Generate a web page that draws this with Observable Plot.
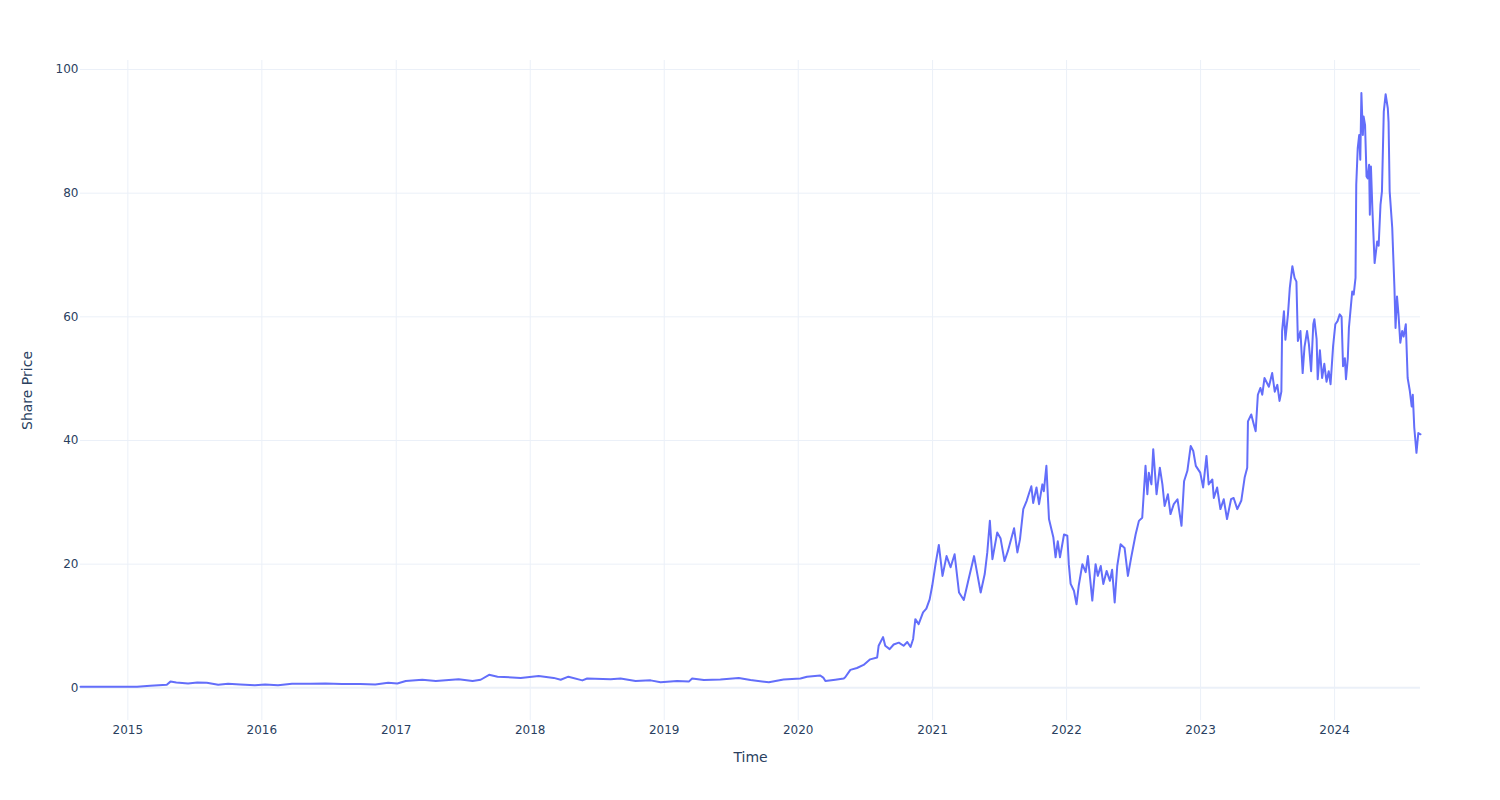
<!DOCTYPE html>
<html>
<head>
<meta charset="utf-8">
<script src="https://cdn.jsdelivr.net/npm/d3@7"></script>
<script src="https://cdn.jsdelivr.net/npm/@observablehq/plot@0.6"></script>
<style>
  html, body { margin: 0; padding: 0; background: #ffffff; }
  #chart { width: 1500px; height: 800px; }
</style>
</head>
<body>
<div id="chart"></div>
<script>
// ---- data ----
const dates = [
  "2014-08-25","2014-10-10","2014-11-20","2015-01-26","2015-03-03","2015-04-17","2015-04-27","2015-05-13",
  "2015-06-14","2015-07-09","2015-08-04","2015-09-04","2015-10-01","2015-11-03","2015-12-13",
  "2016-01-10","2016-02-14","2016-03-23","2016-05-12","2016-06-22","2016-08-06","2016-09-25","2016-11-05","2016-12-10",
  "2017-01-04","2017-01-27","2017-03-13","2017-04-19","2017-06-20","2017-07-28","2017-08-19","2017-09-11","2017-10-04","2017-12-06",
  "2018-01-24","2018-03-06","2018-03-25","2018-04-15","2018-05-23","2018-06-05","2018-08-08","2018-09-04","2018-10-15","2018-11-25","2018-12-22",
  "2019-02-05","2019-03-09","2019-03-18","2019-04-19","2019-06-03","2019-07-23","2019-08-24","2019-10-13","2019-11-22",
  "2020-01-07","2020-01-25","2020-03-01","2020-03-10","2020-03-15","2020-04-11","2020-05-04","2020-05-08","2020-05-22",
  "2020-06-09","2020-06-27","2020-07-15","2020-08-03","2020-08-07","2020-08-19","2020-08-25","2020-09-06","2020-09-17",
  "2020-10-01","2020-10-14","2020-10-24","2020-11-02","2020-11-09","2020-11-15","2020-11-24","2020-12-06","2020-12-15",
  "2020-12-24","2020-12-31",
  "2021-01-09","2021-01-18","2021-01-28","2021-02-08","2021-02-19","2021-03-02","2021-03-14","2021-03-27","2021-04-10",
  "2021-04-24","2021-05-12","2021-05-23","2021-05-30","2021-06-06","2021-06-13","2021-06-26","2021-07-05","2021-07-16",
  "2021-07-25","2021-08-11","2021-08-20","2021-08-27","2021-09-05","2021-09-14","2021-09-21","2021-09-27","2021-10-02",
  "2021-10-11","2021-10-18","2021-10-27","2021-10-31","2021-11-07","2021-11-14","2021-11-26","2021-12-02","2021-12-08",
  "2021-12-14","2021-12-25",
  "2022-01-03","2022-01-07","2022-01-12","2022-01-21","2022-01-28","2022-02-03","2022-02-13","2022-02-22","2022-02-28",
  "2022-03-12","2022-03-21","2022-03-27","2022-04-04","2022-04-11","2022-04-20","2022-04-29","2022-05-05","2022-05-12",
  "2022-05-19","2022-05-28","2022-06-08","2022-06-17","2022-06-26","2022-07-08","2022-07-17","2022-07-26","2022-08-04",
  "2022-08-09","2022-08-13","2022-08-20","2022-08-25","2022-09-03","2022-09-12","2022-09-19","2022-09-25","2022-10-04",
  "2022-10-11","2022-10-20","2022-10-30","2022-11-10","2022-11-17","2022-11-26","2022-12-05","2022-12-12","2022-12-19",
  "2022-12-31",
  "2023-01-08","2023-01-17","2023-01-23","2023-02-02","2023-02-06","2023-02-15","2023-02-24","2023-03-05","2023-03-14",
  "2023-03-25","2023-04-01","2023-04-11","2023-04-22","2023-05-01","2023-05-08","2023-05-10","2023-05-19","2023-05-26",
  "2023-05-31","2023-06-06","2023-06-13","2023-06-18","2023-06-24","2023-07-06","2023-07-15","2023-07-22","2023-07-29",
  "2023-08-04","2023-08-09","2023-08-11","2023-08-16","2023-08-20","2023-08-27","2023-09-01","2023-09-08","2023-09-14",
  "2023-09-19","2023-09-23","2023-09-30","2023-10-06","2023-10-11","2023-10-18","2023-10-23","2023-10-29","2023-11-04",
  "2023-11-07","2023-11-13","2023-11-16","2023-11-22","2023-11-28","2023-12-04","2023-12-10","2023-12-16","2023-12-21",
  "2023-12-28",
  "2024-01-03","2024-01-09","2024-01-15","2024-01-20","2024-01-24","2024-01-29","2024-02-01","2024-02-06","2024-02-09",
  "2024-02-18","2024-02-22","2024-02-27","2024-02-29","2024-03-04","2024-03-08","2024-03-11","2024-03-14","2024-03-18",
  "2024-03-20","2024-03-24","2024-03-28","2024-03-31","2024-04-04","2024-04-06","2024-04-09","2024-04-13","2024-04-19",
  "2024-04-26","2024-04-30","2024-05-05","2024-05-09","2024-05-14","2024-05-19","2024-05-25","2024-05-27","2024-05-30",
  "2024-06-06","2024-06-08","2024-06-12","2024-06-15","2024-06-19","2024-06-23","2024-06-28","2024-07-03","2024-07-07",
  "2024-07-13","2024-07-18","2024-07-24","2024-07-29","2024-08-01","2024-08-05","2024-08-11","2024-08-16","2024-08-22"
];
const prices = [
  0.18,0.17,0.16,0.18,0.35,0.5,1.0,0.85,
  0.7,0.85,0.8,0.5,0.65,0.55,0.43,
  0.55,0.43,0.65,0.65,0.7,0.6,0.6,0.55,0.8,
  0.7,1.1,1.3,1.1,1.4,1.1,1.3,2.1,1.8,1.6,
  1.9,1.6,1.3,1.8,1.2,1.5,1.4,1.5,1.1,1.2,0.9,
  1.1,1.0,1.5,1.25,1.35,1.6,1.25,0.9,1.35,
  1.5,1.8,2.0,1.6,1.1,1.3,1.5,1.7,2.9,
  3.2,3.7,4.6,4.9,6.8,8.2,6.8,6.25,7.0,
  7.3,6.8,7.4,6.6,7.9,11.1,10.3,12.2,12.8,
  14.3,16.5,
  20.0,23.1,18.1,21.3,19.5,21.6,15.4,14.2,17.8,
  21.3,15.4,18.4,21.9,27.0,20.8,25.1,24.2,20.5,
  22.1,25.8,21.9,24.0,28.9,30.2,31.5,32.6,29.9,
  32.4,29.7,32.9,31.8,35.9,27.3,24.3,21.1,23.7,
  21.1,24.8,
  24.6,20.0,16.8,15.7,13.5,16.5,20.0,18.7,21.3,
  14.1,20.0,18.1,19.7,16.8,18.9,17.3,19.1,13.8,
  19.7,23.2,22.6,18.1,21.1,24.8,27.0,27.5,35.9,
  31.3,34.8,32.9,38.6,31.3,35.6,32.9,29.4,31.3,
  28.1,29.7,30.5,26.2,33.4,35.1,39.1,38.3,35.9,
  34.8,
  32.4,37.5,32.9,33.7,30.7,32.4,28.9,30.5,27.3,
  30.5,30.7,28.9,30.3,34.0,35.6,43.1,44.2,42.6,
  41.5,47.4,48.5,47.4,50.1,48.7,50.9,47.9,49.0,
  46.4,47.9,57.7,60.9,56.3,60.4,64.7,68.2,66.3,
  65.7,56.1,57.7,50.9,55.1,57.7,55.6,51.2,58.8,
  59.6,56.4,49.9,54.6,50.1,52.4,49.5,51.2,49.1,
  55.3,
  58.8,59.3,60.4,60.0,52.0,53.3,49.9,53.3,58.2,
  64.1,63.6,66.3,81.4,87.3,89.4,85.4,96.2,89.4,
  92.4,91.0,82.7,82.4,84.6,76.5,84.3,77.3,68.7,
  72.2,71.5,78.1,80.3,93.2,96.0,93.7,91.5,80.3,
  74.4,71.1,64.7,58.2,63.3,60.4,55.8,57.7,56.8,
  58.8,50.1,48.0,45.5,47.4,42.1,38.0,41.2,41.0
];
const yearLabels = ["2015","2016","2017","2018","2019","2020","2021","2022","2023","2024"];
const yTicks = [0, 20, 40, 60, 80, 100];
const xTitle = "Time";
const yTitle = "Share Price";

// ---- build table ----
const data = dates.map((d, i) => ({date: new Date(d + "T00:00:00Z"), price: prices[i]}));
const xTickDates = yearLabels.map(y => new Date(y + "-01-01T00:00:00Z"));

const textColor = "#2a3f5f";
const gridColor = "#EBF0F8";

const chart = Plot.plot({
  width: 1500,
  height: 800,
  marginTop: 60,
  marginBottom: 80,
  marginLeft: 80,
  marginRight: 80,
  style: {fontFamily: "'DejaVu Sans', sans-serif", fontSize: "12px", color: textColor, background: "#ffffff"},
  x: {type: "utc", label: null},
  y: {domain: [-5.29, 101.46], label: null},
  marks: [
    Plot.gridX(xTickDates, {stroke: gridColor, strokeOpacity: 1, strokeWidth: 1}),
    Plot.gridY(yTicks.filter(v => v !== 0), {stroke: gridColor, strokeOpacity: 1, strokeWidth: 1}),
    Plot.ruleY([0], {stroke: gridColor, strokeWidth: 2}),
    Plot.lineY(data, {x: "date", y: "price", stroke: "#636efa", strokeWidth: 2, curve: "linear"}),
    Plot.axisX(xTickDates, {tickSize: 0, tickPadding: 5, tickFormat: d3.utcFormat("%Y"), label: null, fill: textColor, fontSize: 12}),
    Plot.axisY(yTicks, {tickSize: 0, tickPadding: 2, label: null, fill: textColor, fontSize: 12}),
    Plot.text([xTitle], {frameAnchor: "bottom", dy: 41.5, text: d => d, fill: textColor, fontSize: 14, textAnchor: "middle"}),
    Plot.text([yTitle], {frameAnchor: "left", dx: -53, rotate: -90, text: d => d, fill: textColor, fontSize: 14, textAnchor: "middle"})
  ]
});
document.getElementById("chart").appendChild(chart);
</script>
</body>
</html>
